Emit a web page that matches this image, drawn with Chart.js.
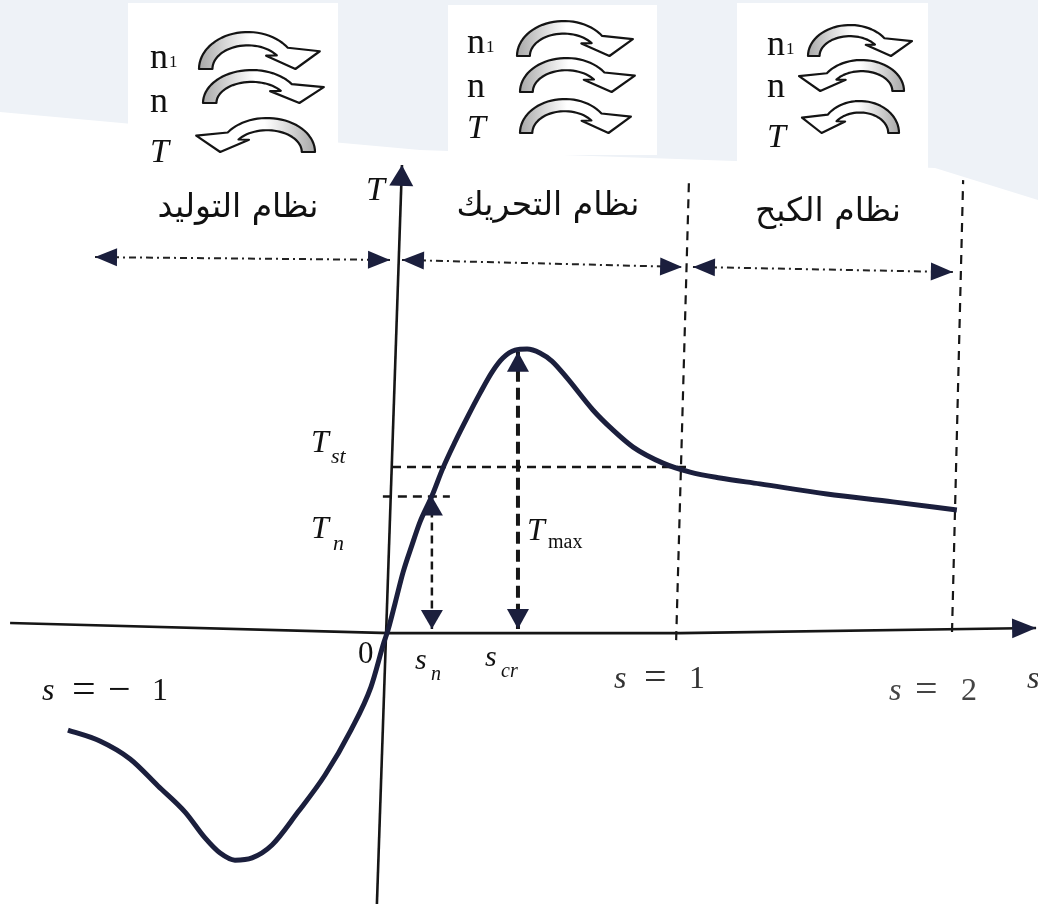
<!DOCTYPE html>
<html>
<head>
<meta charset="utf-8">
<script src="https://cdn.jsdelivr.net/npm/chart.js@4/dist/chart.umd.min.js"></script>
<style>
  html, body { margin: 0; padding: 0; background: #fff; }
  canvas { display: block; }
</style>
</head>
<body>
<canvas id="chart" width="1038" height="904"></canvas>
<script>
// ========== TORQUE / SLIP CURVE ==========
// x = slip s, y = torque T (per unit of T max)

const curveS = [-1.130, -1.018, -0.912, -0.814, -0.719, -0.649, -0.596, -0.544, -0.484, -0.414,
  -0.323, -0.228, -0.137, -0.067, -0.021, -0.007, 0.018, 0.046, 0.077, 0.105, 0.147, 0.186,
  0.228, 0.274, 0.316, 0.358, 0.396, 0.439, 0.481, 0.526, 0.568, 0.621, 0.712, 0.782, 0.853,
  0.958, 1.053, 1.158, 1.298, 1.533, 1.765, 1.989];
const curveT = [-0.356, -0.395, -0.459, -0.555, -0.648, -0.740, -0.794, -0.819, -0.811, -0.765,
  -0.648, -0.516, -0.356, -0.203, -0.043, 0.000, 0.096, 0.206, 0.302, 0.384, 0.477, 0.577,
  0.669, 0.762, 0.843, 0.918, 0.968, 0.996, 1.000, 0.986, 0.957, 0.897, 0.783, 0.712, 0.651,
  0.594, 0.562, 0.541, 0.520, 0.484, 0.456, 0.427];

// marked points
const sN = 0.147, sCr = 0.449;
const tN = 0.475, tSt = 0.580, tPeak = 0.990;

// axes (the scan is a little tilted)
const xAxisS = [-1.333, 0.000, 1.018, 2.267];
const xAxisT = [0.025, -0.011, -0.011, 0.007];
const yAxisS = [-0.046, 0.042];
const yAxisT = [-0.975, 1.655];

// s = 1 and s = 2 boundaries
const s1LineS = [1.004, 1.049];
const s1LineT = [-0.036, 1.601];
const s2LineS = [1.972, 2.011];
const s2LineT = [-0.007, 1.601];

// regions: generator, motor, brake
const regionFromS = [-1.035, 0.042, 1.063];
const regionToS = [0.000, 1.025, 1.975];
const regionFromT = [1.327, 1.317, 1.292];
const regionToT = [1.317, 1.292, 1.274];
const regionNames = ['نظام التوليد', 'نظام التحريك', 'نظام الكبح'];

// rotation icons: true = arrow turns to the right
const iconRows = ['n₁', 'n', 'T'];
const iconDirs = [
  [true, true, false],
  [true, true, true],
  [true, false, false]
];

const INK = '#1b1f3d';

function line(xs, ys, style) {
  return Object.assign({
    data: xs.map((x, i) => ({ x: x, y: ys[i] })),
    showLine: true,
    pointRadius: 0,
    borderColor: '#161616',
    borderWidth: 2,
    fill: false
  }, style);
}

// Fond gris clair + cadres blancs du scan
const bgPlugin = {
  id: 'bg',
  beforeDraw(chart) {
    const ctx = chart.ctx;
    ctx.save();
    ctx.fillStyle = '#ffffff';
    ctx.fillRect(0, 0, chart.width, chart.height);
    ctx.fillStyle = '#eef2f7';
    ctx.beginPath();
    ctx.moveTo(0, 0);
    ctx.lineTo(1038, 0);
    ctx.lineTo(1038, 200);
    ctx.lineTo(935, 168);
    ctx.lineTo(420, 150);
    ctx.lineTo(0, 112);
    ctx.closePath();
    ctx.fill();
    ctx.fillStyle = '#ffffff';
    [[128, 3, 210, 175], [448, 5, 209, 150], [737, 3, 191, 165]].forEach(b => ctx.fillRect(b[0], b[1], b[2], b[3]));
    ctx.restore();
  }
};

// Pointes de fleche aux extremites des lignes
const headsPlugin = {
  id: 'heads',
  afterDatasetsDraw(chart) {
    const ctx = chart.ctx;
    chart.data.datasets.forEach((ds, i) => {
      if (!ds.heads) return;
      const pts = chart.getDatasetMeta(i).data;
      const n = pts.length;
      const len = ds.headSize[0], half = ds.headSize[1];
      const draw = (tip, from) => {
        const a = Math.atan2(tip.y - from.y, tip.x - from.x);
        ctx.save();
        ctx.translate(tip.x, tip.y);
        ctx.rotate(a);
        ctx.beginPath();
        ctx.moveTo(0, 0);
        ctx.lineTo(-len, -half);
        ctx.lineTo(-len, half);
        ctx.closePath();
        ctx.fillStyle = ds.headColor || ds.borderColor;
        ctx.fill();
        ctx.restore();
      };
      if (ds.heads.includes('start')) draw(pts[0], pts[1]);
      if (ds.heads.includes('end')) draw(pts[n - 1], pts[n - 2]);
    });
  }
};

// fleche courbe (icone de sens de rotation), boite x,y,w,h
function curvedArrow(ctx, x, y, w, h, right) {
  const P = (u, v) => [x + (right ? u : 1 - u) * w, y + v * h];
  const a0 = Math.PI, a1 = 2 * Math.PI - 35 * Math.PI / 180;
  const N = 30;
  const pts = [];
  for (let k = 0; k <= N; k++) {
    const t = a0 + (a1 - a0) * k / N;
    pts.push(P(0.40 + 0.40 * Math.cos(t), 1.0 + 1.0 * Math.sin(t)));
  }
  pts.push(P(0.99, 0.52));
  pts.push(P(0.79, 1.0));
  pts.push(P(0.55, 0.64));
  for (let k = N; k >= 0; k--) {
    const t = a0 + (a1 - a0) * k / N;
    pts.push(P(0.40 + 0.29 * Math.cos(t), 1.0 + 0.64 * Math.sin(t)));
  }
  ctx.save();
  ctx.beginPath();
  pts.forEach((p, i) => i ? ctx.lineTo(p[0], p[1]) : ctx.moveTo(p[0], p[1]));
  ctx.closePath();
  const g0 = P(0, 0)[0], g1 = P(1, 0)[0];
  const g = ctx.createLinearGradient(g0, 0, g1, 0);
  g.addColorStop(0, '#a8a8a8');
  g.addColorStop(0.22, '#d8d8d8');
  g.addColorStop(0.42, '#ffffff');
  g.addColorStop(1, '#ffffff');
  ctx.fillStyle = g;
  ctx.fill();
  ctx.lineWidth = 2.2;
  ctx.strokeStyle = '#141414';
  ctx.lineJoin = 'round';
  ctx.stroke();
  ctx.restore();
}

function parts(ctx, list, color) {
  ctx.fillStyle = color || '#111';
  ctx.textAlign = 'left';
  list.forEach(p => {
    ctx.font = p[3];
    ctx.fillText(p[0], p[1], p[2]);
  });
}

// Textes, icones de rotation
const labelsPlugin = {
  id: 'labels',
  afterDraw(chart) {
    const ctx = chart.ctx;
    ctx.save();

    // icones
    const groups = [
      { lx: 150, base: [68, 112, 162], boxes: [[199, 32, 122, 37], [203, 70, 122, 33], [195, 118, 120, 34]] },
      { lx: 467, base: [53, 97, 138], boxes: [[517, 21, 117, 35], [520, 58, 116, 34], [520, 99, 112, 34]] },
      { lx: 767, base: [55, 97, 147], boxes: [[808, 25, 105, 31], [798, 60, 106, 31], [801, 101, 98, 32]] }
    ];
    groups.forEach((g, gi) => {
      iconRows.forEach((r, ri) => {
        const b = g.boxes[ri];
        curvedArrow(ctx, b[0], b[1], b[2], b[3], iconDirs[gi][ri]);
        ctx.fillStyle = '#111';
        ctx.textAlign = 'left';
        if (r === 'T') {
          ctx.font = 'italic 34px "Liberation Serif"';
          ctx.fillText('T', g.lx, g.base[ri]);
        } else {
          ctx.font = '36px "Liberation Serif"';
          ctx.fillText('n', g.lx, g.base[ri]);
          if (r === 'n₁') {
            ctx.font = '17px "Liberation Serif"';
            ctx.fillText('1', g.lx + 19, g.base[ri] - 1);
          }
        }
      });
    });

    // noms des regimes
    ctx.font = '33px "DejaVu Sans"';
    ctx.fillStyle = '#111';
    ctx.textAlign = 'center';
    ctx.direction = 'rtl';
    const cxs = [238, 548, 828], bys = [217, 215, 221];
    regionNames.forEach((t, i) => ctx.fillText(t, cxs[i], bys[i]));
    ctx.direction = 'ltr';

    const it = s => 'italic ' + s + 'px "Liberation Serif"';
    const up = s => s + 'px "Liberation Serif"';
    parts(ctx, [['T', 366, 200, it(34)]]);
    parts(ctx, [['T', 311, 452, it(32)], ['st', 331, 463, it(22)]]);
    parts(ctx, [['T', 311, 538, it(32)], ['n', 333, 550, it(22)]]);
    parts(ctx, [['T', 527, 540, it(32)], ['max', 548, 548, up(20)]]);
    parts(ctx, [['0', 358, 663, up(31)]]);
    parts(ctx, [['s', 415, 669, it(30)], ['n', 431, 680, it(20)]]);
    parts(ctx, [['s', 485, 666, it(30)], ['cr', 501, 677, it(20)]]);
    parts(ctx, [['s', 42, 700, it(32)], ['=', 72, 702, up(42)], ['−', 108, 702, up(40)], ['1', 152, 700, up(32)]]);
    parts(ctx, [['s', 614, 688, it(32)], ['=', 644, 690, up(40)], ['1', 689, 688, up(32)]], '#333');
    parts(ctx, [['s', 889, 700, it(32)], ['=', 915, 702, up(40)], ['2', 961, 700, up(32)]], '#444');
    parts(ctx, [['s', 1027, 688, it(32)]], '#333');

    ctx.restore();
  }
};

const datasets = [
  line(curveS, curveT, { borderColor: INK, borderWidth: 5, cubicInterpolationMode: 'monotone' }),
  line(xAxisS, xAxisT, { borderWidth: 2.6, heads: ['end'], headSize: [24, 10], headColor: INK }),
  line(yAxisS, yAxisT, { borderWidth: 2.6, heads: ['end'], headSize: [21, 12], headColor: INK }),
  line(s1LineS, s1LineT, { borderWidth: 2.2, borderDash: [9, 7] }),
  line(s2LineS, s2LineT, { borderWidth: 2.2, borderDash: [9, 7] }),
  line([0.007, 1.05], [tSt, tSt], { borderWidth: 2.4, borderDash: [9, 6] }),
  line([-0.025, 0.21], [tN, tN], { borderWidth: 2.4, borderDash: [9, 6] }),
  line([sN, sN], [tN, 0.004], { borderWidth: 2.5, borderDash: [8, 5], heads: ['start', 'end'], headSize: [19, 11], headColor: INK }),
  line([sCr, sCr], [tPeak, 0.004], { borderWidth: 4, borderDash: [12, 6], heads: ['start', 'end'], headSize: [20, 11], headColor: INK })
];

regionFromS.forEach((s, i) => {
  datasets.push(line([s, regionToS[i]], [regionFromT[i], regionToT[i]], {
    borderWidth: 2, borderDash: [7, 4, 2, 4], borderColor: '#222',
    heads: ['start', 'end'], headSize: [22, 9], headColor: INK
  }));
});

new Chart(document.getElementById('chart'), {
  type: 'scatter',
  data: { datasets: datasets },
  options: {
    responsive: false,
    animation: false,
    devicePixelRatio: 1,
    layout: { padding: 0 },
    plugins: { legend: { display: false }, tooltip: { enabled: false } },
    scales: {
      x: { type: 'linear', display: false, min: -390 / 285, max: 648 / 285 },
      y: { type: 'linear', display: false, min: -274 / 281, max: 630 / 281 }
    }
  },
  plugins: [bgPlugin, headsPlugin, labelsPlugin]
});
</script>
</body>
</html>
